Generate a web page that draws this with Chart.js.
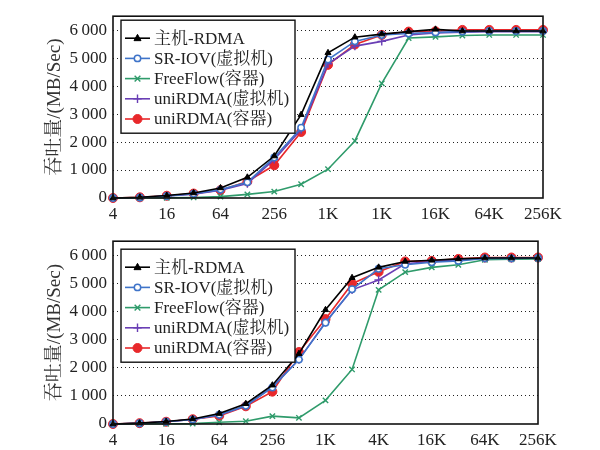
<!DOCTYPE html>
<html>
<head>
<meta charset="utf-8">
<script src="https://cdn.jsdelivr.net/npm/chart.js@4/dist/chart.umd.min.js"></script>
<style>
  html, body { margin: 0; padding: 0; background: #fff; }
  .wrap { position: absolute; left: 0; width: 600px; height: 225px; }
</style>
</head>
<body>
<div class="wrap" style="top:0px"><canvas id="c1" width="600" height="225"></canvas></div>
<div class="wrap" style="top:225px"><canvas id="c2" width="600" height="225"></canvas></div>
<script>
// ---- data ----
const categories = ['4','8','16','32','64','128','256','512','1K','2K','4K','8K','16K','32K','64K','128K','256K'];
const tickLabelsTop = ['4','16','64','256','1K','1K','16K','64K','256K'];
const tickLabelsBottom = ['4','16','64','256','1K','4K','16K','64K','256K'];
const yTicks = [0, 1000, 2000, 3000, 4000, 5000, 6000];
const seriesNames = ['主机-RDMA', 'SR-IOV(虚拟机)', 'FreeFlow(容器)', 'uniRDMA(虚拟机)', 'uniRDMA(容器)'];

const hostTop   = [0, 25, 90, 180, 360, 740, 1500, 2980, 5190, 5750, 5860, 5950, 6030, 5970, 5970, 5970, 5970];
const sriovTop  = [0, 20, 70, 150, 300, 560, 1450, 2510, 4950, 5600, 5830, 5880, 5920, 5950, 5970, 5970, 5970];
const freeTop   = [0, 0, 10, 20, 50, 130, 230, 490, 1030, 2040, 4100, 5720, 5760, 5810, 5830, 5830, 5830];
const uniVmTop  = [0, 20, 70, 140, 280, 520, 1380, 2450, 4800, 5430, 5600, 5830, 5900, 5930, 5950, 5950, 5950];
const uniCtTop  = [0, 25, 80, 160, 280, 590, 1170, 2360, 4760, 5490, 5830, 5950, 5960, 6010, 6010, 6010, 6010];

const hostBot   = [0, 30, 90, 180, 370, 720, 1380, 2500, 4060, 5200, 5570, 5780, 5820, 5870, 5900, 5900, 5900];
const sriovBot  = [0, 25, 80, 160, 330, 650, 1300, 2290, 3600, 4790, 5520, 5660, 5750, 5800, 5890, 5890, 5900];
const freeBot   = [0, 0, 10, 15, 60, 100, 280, 220, 840, 1940, 4770, 5400, 5570, 5660, 5840, 5860, 5870];
const uniVmBot  = [0, 25, 80, 160, 320, 640, 1320, 2290, 3620, 4770, 5120, 5700, 5780, 5830, 5890, 5890, 5900];
const uniCtBot  = [0, 30, 80, 170, 290, 630, 1150, 2560, 3730, 4990, 5410, 5780, 5800, 5870, 5920, 5920, 5920];

// ---- styles ----
const FONT = "'Liberation Serif', 'Noto Serif CJK SC', 'Noto Sans CJK SC', serif";
Chart.defaults.font.family = FONT;
Chart.defaults.font.size = 17;
Chart.defaults.color = '#222';

const styles = [
  { color: '#000000', pointStyle: 'triangle', radius: 3.5, fill: '#000000', bw: 1 },
  { color: '#3f74c9', pointStyle: 'circle',   radius: 3.2, fill: '#ffffff', bw: 1.5 },
  { color: '#2f9b6b', pointStyle: 'crossRot', radius: 3.8, fill: '#2f9b6b', bw: 1.4 },
  { color: '#6a3fb5', pointStyle: 'cross',    radius: 4.2, fill: '#6a3fb5', bw: 1.4 },
  { color: '#e8282b', pointStyle: 'circle',   radius: 4.5, fill: '#e8282b', bw: 1 }
];

function fmt(v) { return v === 0 ? '0' : (Math.floor(v/1000) + '\u2009' + String(v % 1000).padStart(3, '0')); }

function drawMarker(ctx, st, x, y) {
  const r = st.radius;
  ctx.save();
  ctx.lineWidth = st.bw;
  ctx.strokeStyle = st.color;
  ctx.fillStyle = st.fill;
  ctx.beginPath();
  if (st.pointStyle === 'triangle') {
    ctx.moveTo(x, y - r * 1.1);
    ctx.lineTo(x + r, y + r * 0.7);
    ctx.lineTo(x - r, y + r * 0.7);
    ctx.closePath();
    ctx.fill(); ctx.stroke();
  } else if (st.pointStyle === 'circle') {
    ctx.arc(x, y, r, 0, Math.PI * 2);
    ctx.fill(); ctx.stroke();
  } else if (st.pointStyle === 'crossRot') {
    const d = r * 0.75;
    ctx.moveTo(x - d, y - d); ctx.lineTo(x + d, y + d);
    ctx.moveTo(x - d, y + d); ctx.lineTo(x + d, y - d);
    ctx.stroke();
  } else {
    ctx.moveTo(x - r, y); ctx.lineTo(x + r, y);
    ctx.moveTo(x, y - r); ctx.lineTo(x, y + r);
    ctx.stroke();
  }
  ctx.restore();
}

const framePlugin = {
  id: 'frameLegend',
  afterDraw(chart, args, opts) {
    const ctx = chart.ctx;
    const a = chart.chartArea;
    ctx.save();
    ctx.strokeStyle = '#111';
    ctx.lineWidth = 1.6;
    ctx.strokeRect(a.left, a.top, a.right - a.left, a.bottom - a.top);
    // legend box
    const bx = a.left + 8, by = a.top + opts.offY, bw = 174, bh = 113;
    ctx.fillStyle = '#fff';
    ctx.fillRect(bx, by, bw, bh);
    ctx.lineWidth = 1.4;
    ctx.strokeStyle = '#111';
    ctx.strokeRect(bx, by, bw, bh);
    ctx.font = '17px ' + FONT;
    ctx.textBaseline = 'middle';
    ctx.textAlign = 'left';
    chart.data.datasets.forEach((ds, i) => {
      const st = styles[i];
      const y = by + 18 + i * 20.2;
      ctx.strokeStyle = st.color;
      ctx.lineWidth = 1.6;
      ctx.beginPath();
      ctx.moveTo(bx + 4, y); ctx.lineTo(bx + 29, y);
      ctx.stroke();
      drawMarker(ctx, st, bx + 16.5, y);
      ctx.fillStyle = '#222';
      ctx.fillText(ds.label, bx + 33, y + 1);
    });
    ctx.restore();
  }
};

function makeChart(id, seriesList, tickLabels, padRight, padTop, xHeight, legendOffY) {
  const datasets = seriesList.map((data, i) => ({
    label: seriesNames[i],
    data: data,
    borderColor: styles[i].color,
    backgroundColor: styles[i].fill,
    pointBorderColor: styles[i].color,
    pointBackgroundColor: styles[i].fill,
    pointStyle: styles[i].pointStyle,
    pointRadius: styles[i].radius,
    pointBorderWidth: styles[i].bw,
    borderWidth: 1.6,
    tension: 0,
    clip: false
  }));
  return new Chart(document.getElementById(id), {
    type: 'line',
    data: { labels: categories, datasets: datasets },
    plugins: [framePlugin],
    options: {
      responsive: false,
      animation: false,
      layout: { autoPadding: false, padding: { left: 0, right: padRight, top: padTop, bottom: 0 } },
      plugins: {
        legend: { display: false },
        tooltip: { enabled: false },
        frameLegend: { offY: legendOffY }
      },
      scales: {
        x: {
          type: 'category',
          offset: false,
          grid: { display: false, drawTicks: false },
          border: { display: false },
          ticks: {
            autoSkip: false,
            maxRotation: 0,
            padding: 6,
            color: '#222',
            font: { size: 17 },
            callback: (val, idx) => (idx % 2 === 0 ? tickLabels[idx / 2] : '')
          },
          afterFit: (s) => { s.height = xHeight; }
        },
        y: {
          min: 0,
          max: 6500,
          afterBuildTicks: (s) => { s.ticks = yTicks.map(v => ({ value: v })); },
          grid: {
            drawTicks: false,
            color: (c) => (c.tick && c.tick.value === 0 ? 'rgba(0,0,0,0)' : '#222'),
            lineWidth: 1
          },
          border: { display: false, dash: [1, 3] },
          ticks: {
            padding: 6,
            color: '#222',
            font: { size: 17 },
            callback: (v) => fmt(v)
          },
          title: {
            display: true,
            text: '吞吐量/(MB/Sec)',
            font: { size: 19 },
            color: '#333',
            padding: { top: 44, bottom: 0 }
          },
          afterFit: (s) => { s.width = 113; }
        }
      }
    }
  });
}

makeChart('c1', [hostTop, sriovTop, freeTop, uniVmTop, uniCtTop], tickLabelsTop, 57, 10, 27, 4);
makeChart('c2', [hostBot, sriovBot, freeBot, uniVmBot, uniCtBot], tickLabelsBottom, 62, 12, 26, 8);
</script>
</body>
</html>
